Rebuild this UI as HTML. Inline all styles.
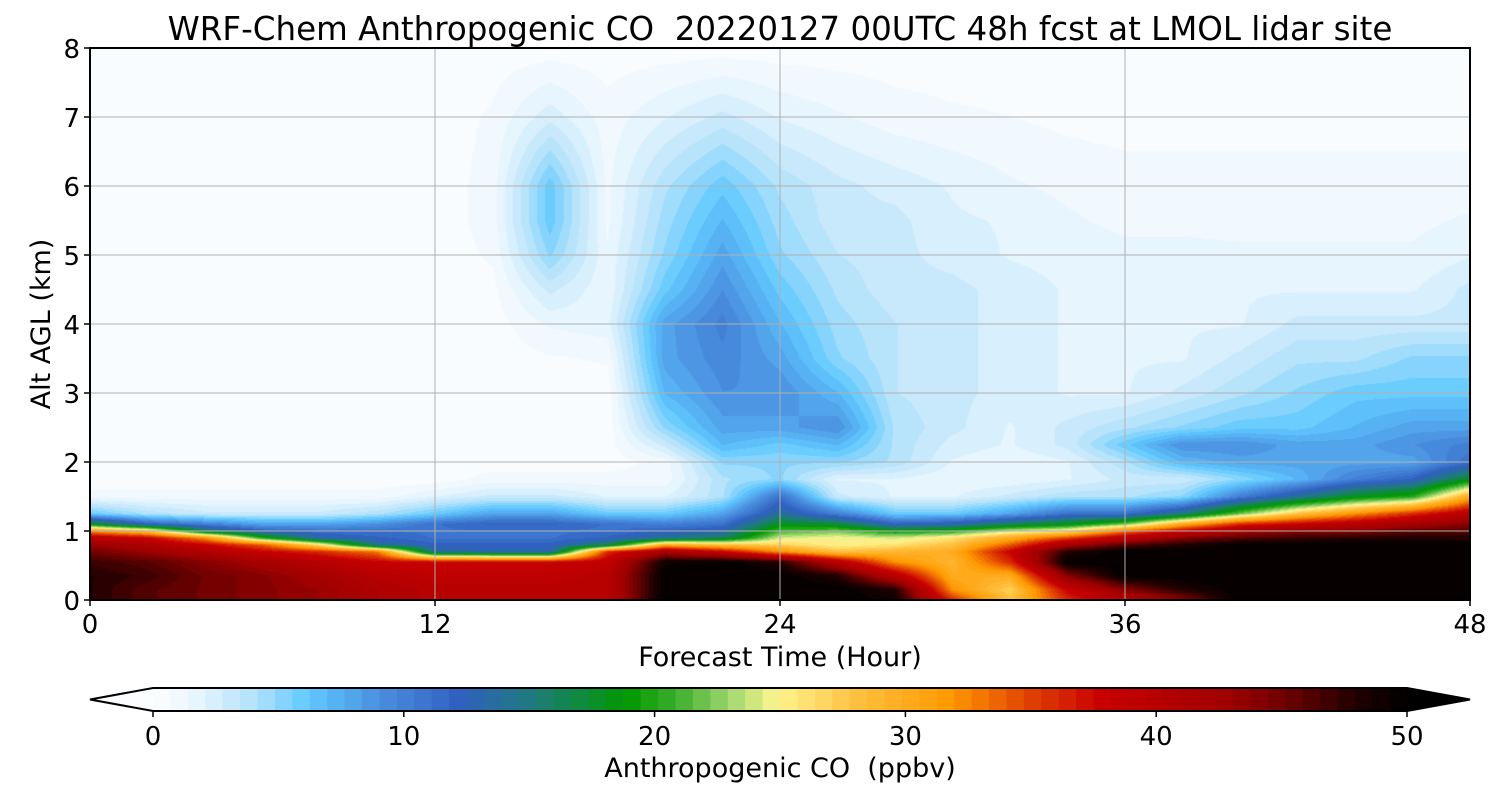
<!DOCTYPE html>
<html><head><meta charset="utf-8">
<style>
html,body{margin:0;padding:0;background:#fff;}
#wrap{position:relative;width:1500px;height:800px;overflow:hidden;font-family:"DejaVu Sans","Liberation Sans",sans-serif;}
canvas{position:absolute;left:90px;top:48px;}
svg{position:absolute;left:0;top:0;}
svg text{white-space:pre;}
</style></head>
<body>
<div id="wrap">
<canvas id="cv" width="1380" height="552"></canvas>
<svg id="sv" width="1500" height="800"></svg>
</div>
<script>
// ---- data ----
const times = [0,2,4,6,8,10,12,14,16,18,20,22,24,26,28,30,32,34,36,38,40,42,44,46,48];
const alts = [0,0.15,0.35,0.55,0.7,0.8,0.9,1.0,1.1,1.25,1.5,1.75,2,2.25,2.5,3,3.5,4,4.5,5,5.5,6,7,8];
const coField = [
[48,46,45,44,43,41,40,40,40,40,50,50,50,50,49,36,28,36,40,44,50,50,50,50,50],
[48,46,45,44,43,41,40,40,40,40,50,50,50,50,48,32,27,38,44,48,50,50,50,50,50],
[48,47,45,44,42,40,39,39,39,40,50,50,50,48,40,30,30,44,50,50,50,50,50,50,50],
[47,46,44,42,40,38,38,38,38,39,49,50,48,40,32,29,36,50,50,50,50,50,50,50,50],
[45,43,41,38,36,33,14,13,13,36,42,38,32,28,29,30,38,48,50,50,50,50,50,50,50],
[43,41,38,34,26,14,12,12,12,16,30,28,27,25,26,28,34,42,46,48,50,50,50,50,50],
[40,38,32,20,13,12,11,11,11,12,14,16,24,25,24,26,30,35,40,44,46,47,48,48,48],
[32,28,16,12,11,11,11,11,11,11,12,13,21,22,19,20,24,26,33,38,42,44,44,46,46],
[18,12,10,8,8,9,11,12,12,11,10,11,18,17,12,13,16,18,22,30,36,38,40,42,44],
[6,4,3,3,3,4,6,8,8,6,6,8,14,10,6,6,8,11,11,15,22,28,32,36,40],
[1,1,1,1,1,1,2,3,3,2,2,4,11,3,2,2,3,4,4,5,10,14,18,20,30],
[0.3,0.3,0.3,0.3,0.3,0.3,0.3,1,1,1,1,4,5,2,2,1.5,1.5,2,3,3,5,7,10,12,18],
[0.3,0.3,0.3,0.3,0.3,0.3,0.3,0.3,0.3,0.3,1,5,5,5,4,2,1.5,2,4,7,8,8,8,8,11],
[0.3,0.3,0.3,0.3,0.3,0.3,0.3,0.3,0.3,0.3,3,7,6,7,4,2.5,2,3,6,9,9,8,8,9,10],
[0.3,0.3,0.3,0.3,0.3,0.3,0.3,0.3,0.3,0.3,5,8,8,9,4,3,2,3,4,5,6,6,7,8,8],
[0.3,0.3,0.3,0.3,0.3,0.3,0.3,0.3,0.3,0.3,7,9,9,7,3.5,3,2.5,2,2,3,4,5,6,6,6],
[0.3,0.3,0.3,0.3,0.3,0.3,0.3,0.3,0.6,0.8,8,9.5,8,5,3.5,3,2.5,2,2,2,3,4,4,5,5],
[0.3,0.3,0.3,0.3,0.3,0.3,0.3,0.3,1.5,1.8,8,10,7,4.5,3.5,3,2.5,2,2,2,2,3,3,3,3],
[0.3,0.3,0.3,0.3,0.3,0.3,0.3,0.5,3,1.5,6,9,6,4,3,3,2.5,2,2,2,2,2,2,2,3],
[0.3,0.3,0.3,0.3,0.3,0.3,0.3,0.8,5,1.5,5,8,5,3.5,3,2.5,2,1.8,1.6,1.6,1.5,1.5,1.5,1.5,2],
[0.3,0.3,0.3,0.3,0.3,0.3,0.3,1,6,1.2,4.5,7,4.5,3,3,2.2,2,1.5,1.2,1.2,1.2,1.2,1.2,1.2,1.5],
[0.3,0.3,0.3,0.3,0.3,0.3,0.3,1,6,1.2,4,6,4,3,2.5,2,1.5,1.2,1,1,1,1,1,1,1],
[0.3,0.3,0.3,0.3,0.3,0.3,0.3,0.8,2.5,1,2,3,2,1.5,1,0.8,0.7,0.5,0.4,0.4,0.4,0.4,0.4,0.4,0.4],
[0.3,0.3,0.3,0.3,0.3,0.3,0.3,0.3,0.3,0.3,0.3,0.3,0.3,0.3,0.3,0.3,0.3,0.3,0.3,0.3,0.3,0.3,0.3,0.3,0.3]
];
const xTicks = [0,12,24,36,48];
const yTicks = [0,1,2,3,4,5,6,7,8];
const cbTicks = [0,10,20,30,40,50];
const cmapStops = [0,0.7,2,4,6.2,9,12.2,15,18.9,21,23,24.9,28,31.8,35,37.8,42.8,45,48,50];
const cmapColors = ["#fbfdff","#f6fbff","#e2f3fe","#b4e2fb","#60c8ff","#4a90e0","#3060c0","#207a80","#009900","#40b030","#a0d870","#fff590","#ffc040","#ff9900","#e04000","#c80000","#a00000","#700000","#200000","#000000"];
const nLevels = 72, vmin = 0, vmax = 50;

// ---- scales ----
const PX0=90, PX1=1470, PY0=48, PY1=600;
const xs = t => PX0 + (t-0)/(48-0)*(PX1-PX0);
const ys = a => PY1 - (a-0)/(8-0)*(PY1-PY0);
const cbx = v => 153 + (v-vmin)/(vmax-vmin)*(1407-153);

function hex(c){return [parseInt(c.substr(1,2),16),parseInt(c.substr(3,2),16),parseInt(c.substr(5,2),16)];}
const stopRGB = cmapColors.map(hex);
function cmap(v){
  if(v<=cmapStops[0]) return stopRGB[0];
  for(let i=1;i<cmapStops.length;i++){
    if(v<=cmapStops[i]){const f=(v-cmapStops[i-1])/(cmapStops[i]-cmapStops[i-1]);const a=stopRGB[i-1],b=stopRGB[i];
      return [a[0]+(b[0]-a[0])*f,a[1]+(b[1]-a[1])*f,a[2]+(b[2]-a[2])*f];}
  }
  return stopRGB[stopRGB.length-1];
}
const step=(vmax-vmin)/nLevels;
function levelColor(v){
  let k=Math.floor((v-vmin)/step); if(k<0)k=0; if(k>nLevels-1)k=nLevels-1;
  return cmap(vmin+(k+0.5)*step);
}
function findIdx(arr,v){for(let i=0;i<arr.length-1;i++){if(v<=arr[i+1])return i;}return arr.length-2;}

// ---- draw field ----
const cv=document.getElementById('cv'),ctx=cv.getContext('2d');
const W=cv.width,H=cv.height,img=ctx.createImageData(W,H);
const colIdx=[],colF=[];
for(let px=0;px<W;px++){const t=(px+0.5)/W*48;const i=findIdx(times,t);colIdx.push(i);colF.push((t-times[i])/(times[i+1]-times[i]));}
for(let py=0;py<H;py++){
  const a=(H-py-0.5)/H*8;const j=findIdx(alts,a);const g=(a-alts[j])/(alts[j+1]-alts[j]);
  const r0=coField[j],r1=coField[j+1];
  for(let px=0;px<W;px++){
    const i=colIdx[px],f=colF[px];
    const v=(r0[i]*(1-f)+r0[i+1]*f)*(1-g)+(r1[i]*(1-f)+r1[i+1]*f)*g;
    const c=levelColor(v);const o=(py*W+px)*4;
    img.data[o]=c[0];img.data[o+1]=c[1];img.data[o+2]=c[2];img.data[o+3]=255;
  }
}
ctx.putImageData(img,0,0);

// ---- svg ----
const NS='http://www.w3.org/2000/svg',sv=document.getElementById('sv');
const FF='DejaVu Sans, Liberation Sans, sans-serif';
function mk(tag,attrs,parent){const e=document.createElementNS(NS,tag);for(const k in attrs)e.setAttribute(k,attrs[k]);(parent||sv).appendChild(e);return e;}
function txt(s,attrs){const e=mk('text',Object.assign({'font-family':FF,fill:'#000'},attrs));e.textContent=s;return e;}

xTicks.forEach(t=>{if(t>0&&t<48){const l=mk('line',{x1:xs(t),x2:xs(t),y1:PY0,y2:PY1,stroke:'#b0b0b0','stroke-width':1});

}});
yTicks.forEach(a=>{if(a>0&&a<8){const l=mk('line',{x1:PX0,x2:PX1,y1:ys(a),y2:ys(a),stroke:'#b0b0b0','stroke-width':1});

}});
const fr=mk('rect',{x:PX0,y:PY0,width:PX1-PX0,height:PY1-PY0,fill:'none',stroke:'#000','stroke-width':2});


xTicks.forEach(t=>{
  const l=mk('line',{x1:xs(t),x2:xs(t),y1:PY1,y2:PY1+6,stroke:'#000','stroke-width':1.5});
  
  
  const e=txt(String(t),{x:xs(t),y:633,'font-size':26,'text-anchor':'middle'});
  
  
});
yTicks.forEach(a=>{
  const l=mk('line',{x1:PX0-6,x2:PX0,y1:ys(a),y2:ys(a),stroke:'#000','stroke-width':1.5});
  
  
  const e=txt(String(a),{x:80,y:ys(a)+10,'font-size':26,'text-anchor':'end'});
  
  
});
let e;
e=txt('WRF-Chem Anthropogenic CO  20220127 00UTC 48h fcst at LMOL lidar site',{x:780,y:40,'font-size':32.5,'text-anchor':'middle'});


e=txt('Forecast Time (Hour)',{x:780,y:666,'font-size':27,'text-anchor':'middle'});


e=txt('Alt AGL (km)',{x:0,y:0,'font-size':27,'text-anchor':'middle',transform:'translate(50,324) rotate(-90)'});



const cbG=mk('g',{});


for(let k=0;k<nLevels;k++){
  const v0=vmin+k*step,v1=v0+step,c=cmap(v0+step/2);
  const r=mk('rect',{x:cbx(v0),y:688,width:cbx(v1)-cbx(v0)+0.6,height:23,fill:'rgb('+c.map(Math.round).join(',')+')'},cbG);
  
  
}
const tl=mk('polygon',{points:'153,688 90,699.5 153,711',fill:'#fbfdff'},cbG);


const tr=mk('polygon',{points:'1407,688 1470,699.5 1407,711',fill:'#000'},cbG);


const ol=mk('polygon',{points:'153,688 1407,688 1470,699.5 1407,711 153,711 90,699.5',fill:'none',stroke:'#000','stroke-width':2},cbG);


cbTicks.forEach(v=>{
  const l=mk('line',{x1:cbx(v),x2:cbx(v),y1:711,y2:717,stroke:'#000','stroke-width':1.5},cbG);
  
  
  const t=txt(String(v),{x:cbx(v),y:745,'font-size':26,'text-anchor':'middle'});
  
  
});
e=txt('Anthropogenic CO  (ppbv)',{x:780,y:777,'font-size':27,'text-anchor':'middle'});


</script>
</body></html>
